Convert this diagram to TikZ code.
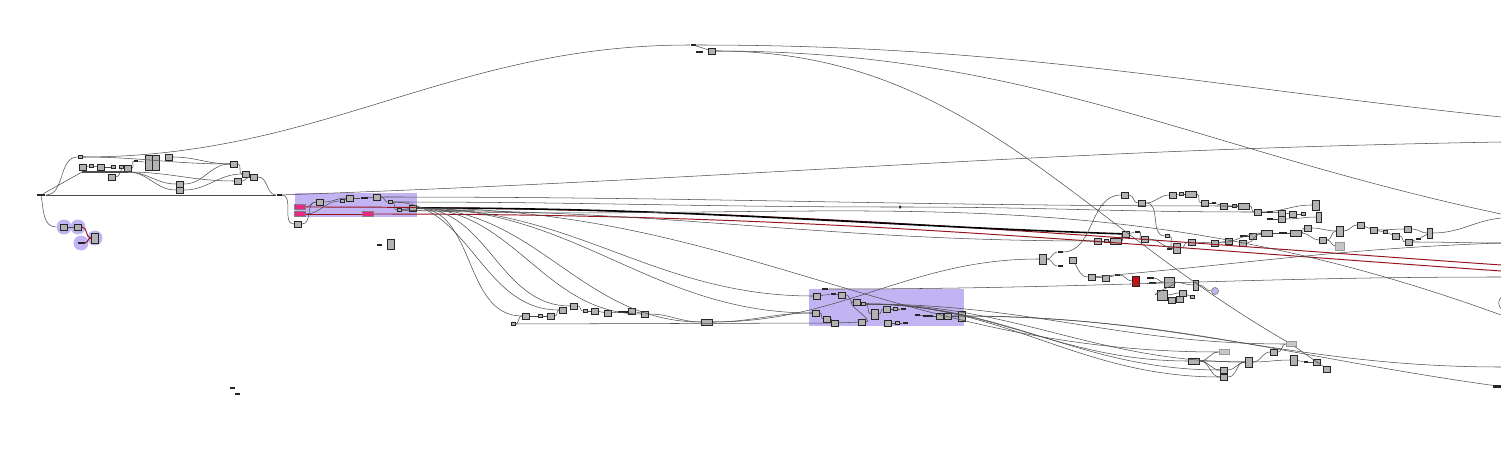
\documentclass[tikz,border=0pt]{standalone}
\usepackage{xcolor}
\usepackage{tikz}
\usetikzlibrary{positioning}
\definecolor{grpfill}{RGB}{194,180,243}
\definecolor{pinkfill}{RGB}{232,40,130}
\definecolor{wirered}{RGB}{150,18,28}
\definecolor{boxred}{RGB}{205,12,22}
\tikzset{wire/.style = {draw=black!70,line width=0.3pt}}
\tikzset{cable/.style = {wire,out=0,in=180}}
\tikzset{red wire/.style = {draw=wirered,line width=0.55pt}}

\begin{document}
\begin{tikzpicture}[x=0.02cm,y=-0.02cm,
    comp node/.style={rectangle,draw=black!85,fill=gray!60,line width=0.5pt,inner sep=0pt,minimum width=0.15cm,minimum height=0.12cm},
    wide node/.style={comp node,minimum width=0.22cm},
    tall node/.style={comp node,minimum height=0.2cm},
    tiny node/.style={comp node,minimum width=0.08cm,minimum height=0.07cm},
    pale node/.style={comp node,draw=gray!80,fill=gray!45},
    bar node/.style={rectangle,fill=black!85,inner sep=0pt,minimum width=0.14cm,minimum height=0.04cm},
    pink node/.style={rectangle,draw=black!50,line width=0.3pt,fill=pinkfill,inner sep=0pt,minimum width=0.22cm,minimum height=0.09cm},
    blob/.style={circle,fill=grpfill,inner sep=0pt,minimum size=0.3cm}]
\useasboundingbox (0,0) rectangle (1501,473);
\fill[grpfill] (295,193) rectangle (417,217);
\fill[grpfill] (809,289) rectangle (964,326);

% left cluster
\node[bar node,minimum width=0.18cm] (src) at (41,195) {};
\node[tiny node] (l0) at (80,157) {};
\node[comp node] (l1) at (83,167) {};
\node[tiny node] (l2) at (91,166) {};
\node[comp node] (l3) at (101,167) {};
\node[tiny node] (l4) at (113,167) {};
\node[tiny node] (l5) at (121,167) {};
\node[comp node] (l6) at (128,168) {};
\node[bar node,minimum width=0.08cm] (l7) at (136,161) {};
\node[comp node,minimum width=0.28cm,minimum height=0.3cm] (l8) at (152,163) {};
\draw[black!85] (l8.north) -- (l8.south);
\node[comp node] (l9) at (169,157) {};
\node[comp node] (l10) at (112,177) {};
\node[comp node] (l11) at (234,164) {};
\node[comp node] (l12) at (238,181) {};
\node[comp node] (l13) at (180,184) {};
\node[comp node] (l14) at (180,190) {};
\node[comp node] (l15) at (246,174) {};
\node[comp node] (l16) at (254,177) {};
\node[bar node,minimum width=0.1cm] (lend) at (279,195) {};
\coordinate (lk) at (82,172);
\coordinate (lk2) at (128,172);

\node[blob] (q1) at (64,227) {};
\node[blob] (q2) at (78,227) {};
\node[blob] (q3) at (95,238) {};
\node[blob] (q4) at (81,243) {};
\node[comp node] (q1c) at (q1) {};
\node[comp node] (q2c) at (q2) {};
\node[tall node] (q3c) at (q3) {};
\node[bar node] (q4c) at (q4) {};

\node[bar node,minimum width=0.1cm] (x1) at (232,388) {};
\node[bar node,minimum width=0.1cm] (x2) at (237,394) {};
\node[bar node,minimum width=0.1cm] (iso1) at (379,245) {};
\node[tall node] (iso2) at (391,244) {};

% top
\node[bar node,minimum width=0.1cm,minimum height=0.05cm] (t1) at (693,45) {};
\node[bar node] (t3) at (699,52) {};
\node[comp node] (t2) at (712,51) {};

% first group
\node[pink node] (pk1) at (300,207) {};
\node[pink node] (pk2) at (300,214) {};
\node[pink node] (pk3) at (368,214) {};
\node[comp node] (p1) at (320,202) {};
\node[tiny node] (p2) at (342,201) {};
\node[comp node] (p3) at (350,198) {};
\node[bar node] (p4) at (364,198) {};
\node[comp node] (p5) at (377,197) {};
\node[tiny node] (p6) at (390,202) {};
\node[tiny node] (p7) at (399,210) {};
\node[comp node] (p8) at (413,208) {};
\node[comp node] (p9) at (298,224) {};
\node[circle,fill=black!80,inner sep=0pt,minimum size=0.07cm] (dot) at (900,207) {};

% middle row
\node[tiny node] (m0) at (513,324) {};
\node[comp node] (m1) at (526,316) {};
\node[tiny node] (m2) at (540,316) {};
\node[comp node] (m3) at (551,316) {};
\node[comp node] (m4) at (563,310) {};
\node[comp node] (m5) at (574,306) {};
\node[tiny node] (m6) at (585,311) {};
\node[comp node] (m7) at (595,311) {};
\node[comp node] (m8) at (608,313) {};
\node[bar node,minimum width=0.2cm] (m9) at (623,312) {};
\node[comp node] (m10) at (632,311) {};
\node[comp node] (m11) at (645,314) {};
\node[wide node] (m12) at (707,322) {};

% second group
\node[bar node,minimum width=0.12cm] (g0) at (825,289) {};
\node[comp node] (g1) at (817,296) {};
\node[bar node,minimum width=0.1cm] (g2) at (833,294) {};
\node[comp node] (g3) at (842,295) {};
\node[comp node] (g4) at (857,302) {};
\node[tiny node] (g5) at (863,304) {};
\node[tall node] (g6) at (875,314) {};
\node[comp node] (g7) at (816,313) {};
\node[comp node] (g8) at (827,319) {};
\node[comp node] (g9) at (835,323) {};
\node[comp node] (g10) at (862,322) {};
\node[comp node] (g11) at (887,309) {};
\node[tiny node] (g12) at (895,309) {};
\node[bar node,minimum width=0.1cm] (g13) at (903,309) {};
\node[comp node] (g14) at (888,323) {};
\node[tiny node] (g15) at (897,323) {};
\node[bar node,minimum width=0.1cm] (g16) at (905,323) {};
\node[bar node,minimum width=0.1cm] (g17) at (917,315) {};
\node[bar node,minimum width=0.2cm] (g18) at (928,316) {};
\node[comp node] (g19) at (940,316) {};
\node[comp node] (g20) at (948,316) {};
\node[tall node] (g21) at (962,316) {};

% right cluster
\node[tall node] (r1) at (1043,259) {};
\node[bar node,minimum width=0.1cm] (r2) at (1060,252) {};
\node[bar node,minimum width=0.1cm] (r3) at (1060,266) {};
\node[comp node] (r4) at (1073,260) {};
\node[comp node] (r5) at (1125,195) {};
\node[comp node] (r6) at (1142,203) {};
\node[comp node] (r7) at (1173,195) {};
\node[tiny node] (r8) at (1181,194) {};
\node[wide node] (r9) at (1191,194) {};
\node[comp node] (r10) at (1205,203) {};
\node[bar node,minimum width=0.08cm] (r11) at (1214,203) {};
\node[comp node] (r12) at (1224,206) {};
\node[tiny node] (r13) at (1234,206) {};
\node[wide node] (r14) at (1244,206) {};
\node[comp node] (r15) at (1258,212) {};
\node[bar node,minimum width=0.12cm] (r16) at (1270,212) {};
\node[comp node] (r17) at (1282,213) {};
\node[comp node] (r18) at (1293,214) {};
\node[tiny node] (r19) at (1303,214) {};
\node[bar node,minimum width=0.12cm] (r20) at (1270,219) {};
\node[comp node] (r21) at (1282,219) {};
\node[tall node] (r22) at (1316,205) {};
\node[tall node,minimum width=0.1cm] (r23) at (1319,217) {};
\node[comp node] (r24) at (1098,241) {};
\node[tiny node] (r25) at (1106,241) {};
\node[wide node] (r26) at (1116,241) {};
\node[comp node] (r27) at (1126,234) {};
\node[bar node,minimum width=0.1cm] (r28) at (1137,232) {};
\node[comp node] (r29) at (1145,239) {};
\node[tiny node] (r30) at (1167,236) {};
\node[tall node] (r31) at (1177,248) {};
\node[bar node,minimum width=0.1cm] (r32) at (1169,249) {};
\node[comp node] (r33) at (1192,242) {};
\node[comp node] (r34) at (1215,243) {};
\node[comp node] (r35) at (1229,241) {};
\node[comp node] (r36) at (1243,243) {};
\node[bar node] (r37) at (1243,236) {};
\node[comp node] (r38) at (1253,236) {};
\node[wide node] (r39) at (1267,233) {};
\node[bar node,minimum width=0.16cm] (r40) at (1283,233) {};
\node[wide node] (r41) at (1296,233) {};
\node[comp node] (r42) at (1308,228) {};
\node[comp node] (r43) at (1323,240) {};
\node[tall node] (r44) at (1340,231) {};
\node[pale node,minimum width=0.17cm,minimum height=0.16cm] (r45) at (1340,246) {};
\node[comp node] (r46) at (1361,225) {};
\node[comp node] (r47) at (1374,230) {};
\node[tiny node] (r48) at (1385,232) {};
\node[comp node] (r49) at (1396,236) {};
\node[comp node] (r50) at (1408,229) {};
\node[comp node] (r51) at (1409,242) {};
\node[bar node,minimum width=0.1cm] (r52) at (1418,239) {};
\node[tall node,minimum width=0.1cm] (r53) at (1430,233) {};
\node[comp node] (s1) at (1092,277) {};
\node[comp node] (s2) at (1106,278) {};
\node[bar node,minimum width=0.1cm] (s3) at (1117,275) {};
\node[tall node,fill=boxred] (s4) at (1136,281) {};
\node[bar node] (s5) at (1150,278) {};
\node[bar node] (s6) at (1152,283) {};
\node[tall node,minimum width=0.2cm] (s7) at (1169,282) {};
\node[tall node,minimum width=0.1cm] (s8) at (1196,285) {};
\node[circle,draw=gray,fill=grpfill,inner sep=0pt,minimum size=0.14cm] (s9) at (1215,291) {};
\node[tall node,minimum width=0.2cm] (s10) at (1162,295) {};
\node[comp node] (s11) at (1183,293) {};
\node[comp node] (s12) at (1180,299) {};
\node[comp node] (s13) at (1172,300) {};
\node[tiny node] (s14) at (1192,297) {};

% bottom right
\node[wide node] (b1) at (1194,361) {};
\node[pale node,minimum width=0.2cm,minimum height=0.09cm] (b2) at (1224,352) {};
\node[tall node] (b3) at (1249,362) {};
\node[comp node] (b5) at (1224,370) {};
\node[comp node] (b6) at (1224,377) {};
\node[comp node] (b7) at (1274,352) {};
\node[pale node,minimum width=0.2cm,minimum height=0.09cm] (b8) at (1291,344) {};
\node[tall node] (b9) at (1294,360) {};
\node[bar node,minimum width=0.08cm] (b10) at (1306,362) {};
\node[comp node] (b11) at (1317,362) {};
\node[comp node] (b12) at (1327,369) {};
\node[bar node,minimum width=0.16cm,minimum height=0.06cm] (b13) at (1497,386) {};

% loose ends at the right border
\coordinate (e1) at (1501,117);
\coordinate (e2) at (1501,142);
\coordinate (e3) at (1501,214);
\coordinate (e6) at (1501,218);
\coordinate (e7) at (1501,243);
\coordinate (ered1) at (1501,265);
\coordinate (ered2) at (1501,271);
\coordinate (e4) at (1501,277);
\coordinate (e8) at (1501,315);
\coordinate (e5) at (1501,367);
\node[circle,draw=black!70,line width=0.3pt,minimum size=0.24cm] (ec) at (1507,303) {};

% wires, left
\path (src) edge[wire,line width=0.5pt] (lend);
\path (src) edge[cable] (l0);
\path (src) edge[wire] (lk);
\path (lk) edge[wire,line width=0.7pt] (lk2);
\path (lk2) edge[cable] (l13) edge[cable] (l14) edge[cable] (l12);
\path (src) edge[wire,out=-80,in=180] (q1);
\path (q1c) edge[wire] (q2c);
\path (q2c) edge[red wire,out=0,in=180] (q3c);
\path (q4c) edge[red wire,out=0,in=180] (q3c);
\path (l0) edge[cable] (l11);
\path (l1) edge[wire] (l2);
\path (l2) edge[wire] (l3);
\path (l3) edge[wire] (l4);
\path (l5) edge[wire] (l6);
\path (l10) edge[cable] (l6);
\path (l6) edge[cable] (l7);
\path (l7) edge[wire] (l8);
\path (l9) edge[cable] (l11);
\path (l13) edge[cable] (l11);
\path (l14) edge[cable] (l15);
\path (l11) edge[cable] (l15);
\path (l12) edge[cable] (l16);
\path (l16) edge[cable] (lend);

% wires, long ones
\path (l0) edge[cable] (t1);
\path (t1) edge[wire] (t2);
\path (t1) edge[wire,out=0,in=174] (e1);
\path (t2) edge[wire,out=0,in=168] (e3);
\path (t2) edge[wire,out=0,in=150] (b8);
\path (b8) edge[wire] (b12);
\path (lend) edge[wire,out=2,in=181] (e2);
\path (lend) edge[cable] (p9);

% wires, first group
\path (p9) edge[cable] (p1);
\path (pk1) edge[cable] (p1);
\path (pk2) edge[cable] (p2);
\path (p1) edge[cable] (p3);
\path (p2) edge[cable] (p3);
\path (p3) edge[wire] (p4);
\path (p4) edge[wire] (p5);
\path (p5) edge[cable] (p6);
\path (p6) edge[cable] (p7);
\path (p7) edge[wire] (p8);
\path (pk2) edge[red wire] (pk3);
\path (pk1) edge[red wire,out=0,in=176] (ered1);
\path (pk3) edge[red wire,out=0,in=176] (ered2);
\path (p8) edge[wire,draw=black,line width=0.9pt,out=0,in=178] (r27);
\path (p6) edge[cable] (dot);
\path (dot) edge[cable] (r15);
\path (p5) edge[cable] (r14);
\path (p7) edge[cable] (r24);
\path (p7) edge[wire,out=-2,in=160] (e8);
\path (p8) edge[cable] (m1) edge[cable] (m5) edge[cable] (m11) edge[cable] (m12)
           edge[cable] (g1) edge[cable] (g7) edge[cable] (b2);
\path (p6) edge[cable] (m4);

% wires, middle row
\path (m0) edge[cable] (m1);
\path (m0) edge[wire] (g9);
\path (m1) edge[wire] (m2);
\path (m2) edge[wire] (m3);
\path (m3) edge[cable] (m4);
\path (m5) edge[cable] (m6);
\path (m6) edge[wire] (m7);
\path (m7) edge[wire] (m8);
\path (m8) edge[wire] (m9);
\path (m9) edge[wire] (m10);
\path (m10) edge[wire] (m11);
\path (m11) edge[cable] (m12);
\path (m12) edge[cable] (g7);
\path (m12) edge[cable] (r1);

% wires, second group
\path (g1) edge[wire] (g2);
\path (g2) edge[wire] (g3);
\path (g3) edge[cable] (g4);
\path (g4) edge[wire] (g5);
\path (g5) edge[cable] (g6);
\path (g6) edge[cable] (g11);
\path (g11) edge[wire] (g12);
\path (g12) edge[wire] (g13);
\path (g7) edge[cable] (g8);
\path (g8) edge[cable] (g9);
\path (g9) edge[wire] (g10);
\path (g10) edge[cable] (g4);
\path (g14) edge[wire] (g15);
\path (g15) edge[wire] (g16);
\path (g17) edge[wire] (g18);
\path (g18) edge[wire] (g19);
\path (g19) edge[wire] (g20);
\path (g20) edge[wire] (g21);
\path (g0) edge[wire,out=0,in=180] (e4);
\path (g5) edge[cable] (b1) edge[cable] (b5) edge[cable] (b6) edge[cable] (b8) edge[cable] (b3);
\path (g21) edge[cable] (e5);
\path (g20) edge[wire,out=0,in=172] (b13);

% wires, right cluster
\path (r1) edge[cable] (r2) edge[cable] (r3);
\path (r2) edge[cable] (r5);
\path (r5) edge[cable] (r6);
\path (r6) edge[cable] (r7);
\path (r7) edge[wire] (r8);
\path (r8) edge[wire] (r9);
\path (r9) edge[cable] (r10);
\path (r10) edge[wire] (r11);
\path (r11) edge[wire] (r12);
\path (r12) edge[wire] (r13);
\path (r13) edge[wire] (r14);
\path (r14) edge[cable] (r15);
\path (r15) edge[wire] (r16);
\path (r16) edge[wire] (r17);
\path (r17) edge[wire] (r18);
\path (r18) edge[wire] (r19);
\path (r15) edge[cable] (r22);
\path (r20) edge[wire] (r21);
\path (r21) edge[cable] (r23);
\path (r6) edge[cable] (r30);
\path (r24) edge[wire] (r25);
\path (r25) edge[wire] (r26);
\path (r26) edge[cable] (r27);
\path (r27) edge[wire] (r28);
\path (r28) edge[cable] (r29);
\path (r29) edge[cable] (r31);
\path (r30) edge[cable] (r31);
\path (r32) edge[wire] (r31);
\path (r31) edge[cable] (r33);
\path (r33) edge[wire] (r34);
\path (r34) edge[wire] (r35);
\path (r34) edge[cable] (r39);
\path (r36) edge[cable] (r39);
\path (r37) edge[wire] (r38);
\path (r38) edge[wire] (r39);
\path (r39) edge[wire] (r40);
\path (r40) edge[wire] (r41);
\path (r41) edge[cable] (r42) edge[cable] (r43);
\path (r42) edge[cable] (r44);
\path (r43) edge[cable] (r44) edge[cable] (r45);
\path (r44) edge[cable] (r46);
\path (r46) edge[wire] (r47);
\path (r47) edge[wire] (r48);
\path (r48) edge[wire] (r49);
\path (r47) edge[cable] (r50);
\path (r49) edge[cable] (r51);
\path (r50) edge[cable] (r53);
\path (r51) edge[wire] (r52);
\path (r52) edge[wire] (r53);
\path (r53) edge[wire,out=0,in=186] (e6);
\path (r51) edge[cable] (e7);
\path (r4) edge[wire,out=-60,in=180] (s1);
\path (s1) edge[wire,out=5,in=182] (e7);
\path (s1) edge[wire] (s2);
\path (s2) edge[wire] (s3);
\path (s3) edge[cable] (s4);
\path (s5) edge[cable] (s7);
\path (s6) edge[cable] (s7);
\path (s7) edge[cable] (s8);
\path (s8) edge[cable] (s9);
\path (s7) edge[cable] (s10);
\path (s10) edge[cable] (s11);
\path (s11) edge[wire] (s14);
\path (s13) edge[wire] (s12);

% wires, bottom right
\path (b1) edge[cable] (b2) edge[cable] (b5) edge[cable] (b6) edge[cable] (b3);
\path (b5) edge[cable] (b3);
\path (b6) edge[cable] (b3);
\path (b3) edge[cable] (b7) edge[cable] (b9);
\path (b7) edge[cable] (b8);
\path (b9) edge[wire] (b10);
\path (b10) edge[wire] (b11);
\end{tikzpicture}
\end{document}
